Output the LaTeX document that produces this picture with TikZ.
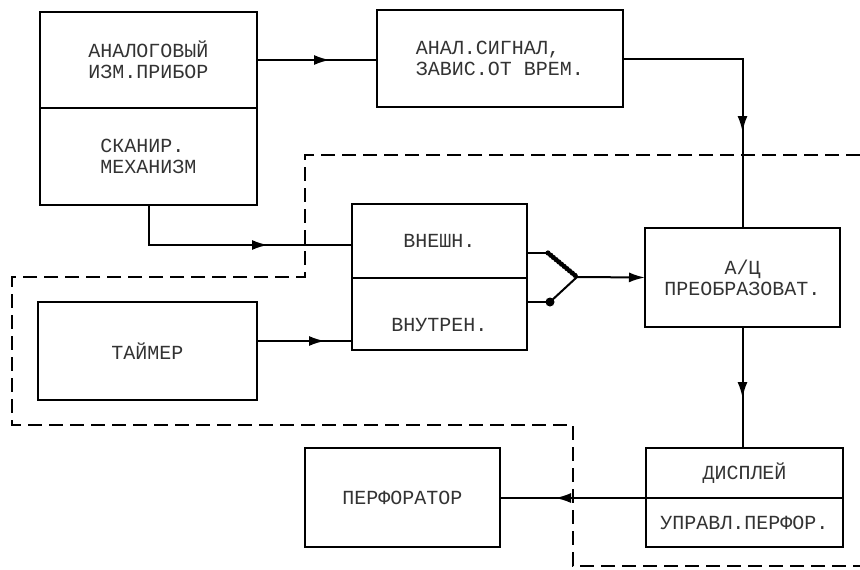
\documentclass[tikz,border=0pt]{standalone}
\usepackage{fontspec}
\newfontfamily\plotfont{Liberation Mono}
\usetikzlibrary{positioning,arrows.meta,decorations.markings}

\begin{document}
\begin{tikzpicture}[x=1pt,y=-1pt,node distance=0pt]
	\tikzset{
		blok/.style={rectangle, draw=black, line width=2pt, inner sep=0pt, outer sep=0pt, text=black!80, font=\plotfont\fontsize{20}{21}\selectfont, align=left},
		lin/.style={line width=2pt},
		midarrow/.style={lin, decoration={markings, mark=at position #1 with {\arrow{Latex[length=16pt,width=10pt]}}}, postaction={decorate}},
		endarrow/.style={lin, -{Latex[length=16pt,width=10pt]}},
		beads/.style={line width=3pt, decoration={markings, mark=between positions 0 and 1 step 3.5pt with {\fill (0,0) circle (2.6pt);}}, postaction={decorate}},
		border/.style={line width=1.8pt, dash pattern=on 14pt off 7pt}
	}
	\useasboundingbox (0,0) rectangle (860,570);

	% bloki
	\node[blok, minimum width=217pt, minimum height=96pt] (pribor) at (148.5,60) {АНАЛОГОВЫЙ\\ИЗМ.ПРИБОР};
	\node[blok, minimum width=217pt, minimum height=97pt, below=of pribor] (skaner) {СКАНИР.\\МЕХАНИЗМ};
	\node[blok, minimum width=246pt, minimum height=97pt] (signal) at (500,58.5) {АНАЛ.СИГНАЛ,\\ЗАВИС.ОТ ВРЕМ.};
	\node[blok, minimum width=175pt, minimum height=74pt] (vnesh) at (439.5,241) {ВНЕШН.};
	\node[blok, minimum width=175pt, minimum height=72pt, text height=35pt, below=of vnesh] (vnutr) {ВНУТРЕН.};
	\node[blok, minimum width=219pt, minimum height=98pt] (taimer) at (147.5,351) {ТАЙМЕР};
	\node[blok, minimum width=195pt, minimum height=99pt, align=center] (aczp) at (742.5,277.5) {А/Ц\\ПРЕОБРАЗОВАТ.};
	\node[blok, minimum width=197pt, minimum height=50pt] (displei) at (744.5,473) {ДИСПЛЕЙ};
	\node[blok, minimum width=197pt, minimum height=49pt, below=of displei] (upravl) {УПРАВЛ.ПЕРФОР.};
	\node[blok, minimum width=195pt, minimum height=99pt] (perf) at (402.5,497.5) {ПЕРФОРАТОР};

	% perekljuchatel
	\coordinate (pivot) at (577,277);
	\draw[lin] ([yshift=-12pt]vnesh.east) -- ++(21,0) coordinate (kontakt1);
	\draw[beads] (kontakt1) -- (pivot);
	\draw[lin] ([yshift=12pt]vnutr.east) -- ++(23,0) coordinate (kontakt2);
	\fill (kontakt2) circle (4.5pt);
	\draw[lin] (kontakt2) -- (pivot);
	\draw[endarrow] (pivot) -- (aczp.west);

	% svjazi
	\draw[midarrow=73pt] (pribor.east) -- (pribor.east -| signal.west);
	\draw[midarrow=-84pt] (skaner.south) |- ([yshift=-4pt]vnesh.west);
	\draw[midarrow=-27pt] ([yshift=10pt]taimer.east) -- ([yshift=10pt]taimer.east -| vnutr.west);
	\draw[midarrow=-96pt] (signal.east) -| (aczp.north);
	\draw[midarrow=-50pt] (aczp.south) -- (aczp.south |- displei.north);
	\draw[midarrow=-55pt] (displei.south west) -- (displei.south west -| perf.east);

	% granica
	\draw[border] (860,155) -| (305,277) -| (12,425) -| (573,566) -- (860,566);
\end{tikzpicture}
\end{document}
